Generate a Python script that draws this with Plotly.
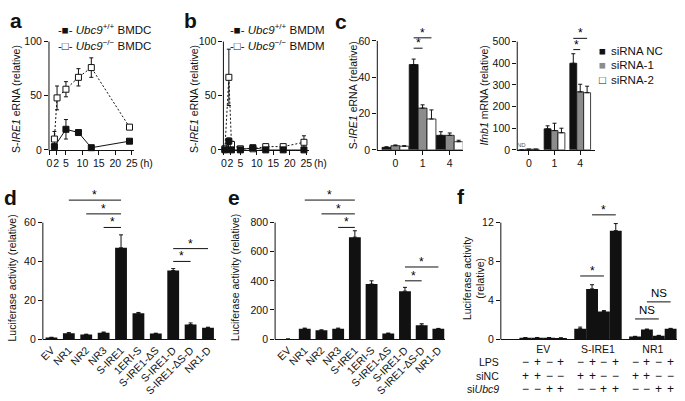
import plotly.graph_objects as go

W, H = 685, 401
FONT = "Liberation Sans, Arial, Helvetica, sans-serif"
INK = "#111111"
GRAY = "#8c8c8c"

# ===================== DATA =====================
# (a) S-IRE1 eRNA, BMDC time course (h)
a_time_wt = [1.5, 5, 8.8, 12.7, 24.3]
a_val_wt = [3, 19, 16, 2, 8]
a_err_wt = [2, 9, 1, 1, 1]
a_time_ko = [1.5, 2.3, 5, 8.8, 12.7, 24.3]
a_val_ko = [10, 48, 56, 67, 76, 21]
a_err_ko = [7, 11, 7, 8, 9, 2]

# (b) S-IRE1 eRNA, BMDM time course (h)
b_time = [0.3, 1.5, 2.3, 5, 8.8, 12.7, 18, 24.3]
b_val_wt = [0, 8, 0, 0, 2, 0, 0, 0]
b_err_wt = [0.5, 3, 1, 1, 1, 0.5, 0.5, 1]
b_val_ko = [1, 67, 5, 1, 1, 3, 3, 7]
b_err_ko = [1, 26, 3, 1, 1, 1, 1, 6]

time_ticks = [0, 2, 5, 10, 15, 20, 25]
ab_yticks = [0, 50, 100]

# (c) siRNA knock-down
c_groups = ["0", "1", "4"]
c_names = ["siRNA NC", "siRNA-1", "siRNA-2"]
c_eRNA_nc = [1.4, 47, 8]
c_eRNA_si1 = [2.3, 23, 8]
c_eRNA_si2 = [2.0, 17, 4.5]
c_eRNA_nc_err = [0.3, 3, 2]
c_eRNA_si1_err = [0.4, 1.8, 1.3]
c_eRNA_si2_err = [0.3, 5, 0.8]
c_ifnb_nc = [0, 97, 400]
c_ifnb_si1 = [3, 89, 268]
c_ifnb_si2 = [3, 79, 264]
c_ifnb_nc_err = [0, 14, 44]
c_ifnb_si1_err = [0, 34, 35]
c_ifnb_si2_err = [0, 21, 30]
c_eRNA_yticks = [0, 20, 40, 60]
c_ifnb_yticks = [0, 100, 200, 300, 400, 500]
# (group, bar_i, bar_j, level, label)
c_eRNA_sig = [(1, 0, 1, 56, "*"), (1, 0, 2, 61.7, "*")]
c_ifnb_sig = [(2, 0, 1, 463, "*"), (2, 0, 2, 515, "*")]

# (d), (e) luciferase constructs
de_labels = ["EV", "NR1", "NR2", "NR3", "S-IRE1", "1ERI-S", "S-IRE1-ΔS",
             "S-IRE1-D", "S-IRE1-ΔS-D", "NR1-D"]
d_vals = [0.8, 3, 2.3, 3.3, 47, 13.3, 2.8, 35.3, 7.5, 5.8]
d_errs = [0.1, 0.3, 0.2, 0.3, 6.7, 0.4, 0.2, 1.0, 0.8, 0.3]
e_vals = [0, 71, 60, 70, 700, 378, 38, 329, 95, 70]
e_errs = [0, 4, 3, 5, 44, 22, 3, 26, 10, 3]
d_yticks = [0, 20, 40, 60]
e_yticks = [0, 200, 400, 600, 800]
# (bar_i, bar_j, level, label)
d_sig = [(1, 4, 71.6, "*"), (2, 4, 64.5, "*"), (3, 4, 57.5, "*"),
         (7, 8, 40, "*"), (7, 9, 46.6, "*")]
e_sig = [(1, 4, 955, "*"), (2, 4, 860, "*"), (3, 4, 767, "*"),
         (7, 8, 400, "*"), (7, 9, 495, "*")]

# (f) luciferase with LPS / siRNA
f_groups = ["EV", "S-IRE1", "NR1"]
f_ev = [0.12, 0.14, 0.13, 0.1]
f_sire1 = [1.07, 5.17, 2.83, 11.17]
f_nr1 = [0.25, 0.98, 0.35, 1.05]
f_ev_err = [0.02, 0.02, 0.02, 0.02]
f_sire1_err = [0.16, 0.43, 0.1, 0.73]
f_nr1_err = [0.03, 0.05, 0.03, 0.05]
f_lps = ["−", "+", "−", "+"]
f_sinc = ["+", "+", "−", "−"]
f_siubc9 = ["−", "−", "+", "+"]
f_yticks = [0, 4, 8, 12]
# (group, bar_i, bar_j, level, label)
f_sig = [(1, 0, 2, 6.5, "*"), (1, 1, 3, 12.8, "*"),
         (2, 0, 2, 2.07, "NS"), (2, 1, 3, 3.83, "NS")]

# ===================== LAYOUT GEOMETRY (pixels) =====================
def px(p):
    return p / W


def py(p):
    return 1 - p / H


def lin_range(p_lo, p_hi, pa, va, pb, vb):
    s = (pb - pa) / (vb - va)
    return [va + (p_lo - pa) / s, va + (p_hi - pa) / s]


GEO = {
    "a": dict(n="", L=44.5, R=131, xc=(45, 0, 128.3, 25), y0=148.3, yt=(36.7, 100), yhi=100),
    "b": dict(n="2", L=221, R=307.5, xc=(221.5, 0, 304.8, 25), y0=148.3, yt=(36.7, 100), yhi=100),
    "c1": dict(n="3", L=376.7, R=463, xc=(395, 0, 450, 2), y0=148.3, yt=(36, 60), yhi=66),
    "c2": dict(n="4", L=518.3, R=596.7, xc=(530, 0, 582, 2), y0=148.3, yt=(36.7, 500), yhi=545),
    "d": dict(n="5", L=38.3, R=213, xc=(47, 0, 205.4, 9), y0=343.3, yt=(223.3, 60), yhi=78),
    "e": dict(n="6", L=273.3, R=445, xc=(286.4, 0, 438.5, 9), y0=343.3, yt=(223.3, 800), yhi=1020),
    "f": dict(n="7", L=501.7, R=680, xc=(526.5, 0, 538.5, 1), y0=343.3, yt=(223.3, 12), yhi=14.3),
}

tickfont = dict(family=FONT, size=10.5, color=INK)
layout = dict(
    width=W, height=H, autosize=False,
    margin=dict(l=0, r=0, t=0, b=0),
    paper_bgcolor="white", plot_bgcolor="white",
    showlegend=False, barmode="overlay",
    font=dict(family=FONT, size=10.5, color=INK),
)
shapes = []
annotations = []

for key, g in GEO.items():
    n = g["n"]
    s = (g["y0"] - g["yt"][0]) / g["yt"][1]
    top_px = g["y0"] - g["yhi"] * s
    xr = lin_range(g["L"], g["R"], *g["xc"])
    layout["xaxis" + n] = dict(
        domain=[px(g["L"]), px(g["R"])], range=xr, anchor="y" + n,
        showgrid=False, zeroline=False, showline=True, linecolor=INK, linewidth=1,
        ticks="outside", ticklen=4, tickwidth=1, tickcolor=INK, tickfont=tickfont,
        tickangle=0,
    )
    layout["yaxis" + n] = dict(
        domain=[py(g["y0"]), py(top_px)], range=[0, g["yhi"]], anchor="x" + n,
        showgrid=False, zeroline=False, showline=False,
        ticks="outside", ticklen=4, tickwidth=1, tickcolor=INK, tickfont=tickfont,
    )
    shapes.append(dict(type="line", xref="paper", yref="paper",
                       x0=px(g["L"]), x1=px(g["L"]), y0=py(g["y0"] + 0.5), y1=py(g["yt"][0]),
                       line=dict(color=INK, width=1)))

for n in ["", "2"]:
    layout["xaxis" + n].update(tickmode="array", tickvals=time_ticks, ticktext=[str(t) for t in time_ticks])
    layout["yaxis" + n].update(tickmode="array", tickvals=ab_yticks)
layout["xaxis3"].update(tickmode="array", tickvals=[0, 1, 2], ticktext=c_groups)
layout["yaxis3"].update(tickmode="array", tickvals=c_eRNA_yticks)
layout["xaxis4"].update(tickmode="array", tickvals=[0, 1, 2], ticktext=c_groups)
layout["yaxis4"].update(tickmode="array", tickvals=c_ifnb_yticks)
for n, yt in [("5", d_yticks), ("6", e_yticks)]:
    layout["xaxis" + n].update(tickmode="array", tickvals=list(range(len(de_labels))),
                               ticktext=de_labels, tickangle=-45, ticks="")
    layout["yaxis" + n].update(tickmode="array", tickvals=yt)

F_STRIDE = 4.625
f_centers = [gi * F_STRIDE + 1.5 for gi in range(len(f_groups))]
layout["xaxis7"].update(tickmode="array", tickvals=f_centers, ticktext=f_groups, ticks="")
layout["yaxis7"].update(tickmode="array", tickvals=f_yticks)

fig = go.Figure()


def err(arr, one_sided=True, width=2):
    d = dict(type="data", array=arr, color=INK, thickness=1, width=width, visible=True)
    if one_sided:
        d.update(symmetric=False, arrayminus=[0] * len(arr))
    return d


for n, t_wt, v_wt, e_wt, t_ko, v_ko, e_ko in [
    ("", a_time_wt, a_val_wt, a_err_wt, a_time_ko, a_val_ko, a_err_ko),
    ("2", b_time, b_val_wt, b_err_wt, b_time, b_val_ko, b_err_ko),
]:
    fig.add_trace(go.Scatter(
        x=t_ko, y=v_ko, error_y=err(e_ko, False, 2), mode="lines+markers",
        line=dict(color=INK, width=1, dash="2px,2px"),
        marker=dict(symbol="square", size=6, color="white", line=dict(color=INK, width=1)),
        xaxis="x" + n, yaxis="y" + n, cliponaxis=False, hoverinfo="skip"))
    fig.add_trace(go.Scatter(
        x=t_wt, y=v_wt, error_y=err(e_wt, False, 2), mode="lines+markers",
        line=dict(color=INK, width=1),
        marker=dict(symbol="square", size=6, color=INK, line=dict(color=INK, width=1)),
        xaxis="x" + n, yaxis="y" + n, cliponaxis=False, hoverinfo="skip"))

C_COLORS = [INK, GRAY, "white"]
c_bw = {"3": 9 / 27.5, "4": 7 / 26}
for n, series, errs in [
    ("3", [c_eRNA_nc, c_eRNA_si1, c_eRNA_si2], [c_eRNA_nc_err, c_eRNA_si1_err, c_eRNA_si2_err]),
    ("4", [c_ifnb_nc, c_ifnb_si1, c_ifnb_si2], [c_ifnb_nc_err, c_ifnb_si1_err, c_ifnb_si2_err]),
]:
    bw = c_bw[n]
    for i, (vals, ee) in enumerate(zip(series, errs)):
        fig.add_trace(go.Bar(
            x=[k + (i - 1) * bw for k in range(len(c_groups))], y=vals, width=bw,
            marker=dict(color=C_COLORS[i], line=dict(color=INK, width=0.8)),
            error_y=err(ee), xaxis="x" + n, yaxis="y" + n, cliponaxis=False,
            name=c_names[i], hoverinfo="skip"))

for n, vals, ee, bw in [("5", d_vals, d_errs, 0.68), ("6", e_vals, e_errs, 0.71)]:
    fig.add_trace(go.Bar(
        x=list(range(len(de_labels))), y=vals, width=bw,
        marker=dict(color=INK, line=dict(width=0)),
        error_y=err(ee), xaxis="x" + n, yaxis="y" + n, cliponaxis=False, hoverinfo="skip"))

for gi, (vals, ee) in enumerate([(f_ev, f_ev_err), (f_sire1, f_sire1_err), (f_nr1, f_nr1_err)]):
    fig.add_trace(go.Bar(
        x=[gi * F_STRIDE + i for i in range(len(vals))], y=vals, width=1.0,
        marker=dict(color=INK, line=dict(width=0)),
        error_y=err(ee), xaxis="x7", yaxis="y7", cliponaxis=False, hoverinfo="skip"))


def bracket(n, x0, x1, y, text, size=12, yshift=2):
    shapes.append(dict(type="line", xref="x" + n, yref="y" + n, x0=x0, x1=x1, y0=y, y1=y,
                       line=dict(color=INK, width=1)))
    annotations.append(dict(xref="x" + n, yref="y" + n, x=(x0 + x1) / 2, y=y, text=text,
                            showarrow=False, yanchor="bottom", yshift=yshift,
                            font=dict(family=FONT, size=size, color="black")))


for n, sig in [("3", c_eRNA_sig), ("4", c_ifnb_sig)]:
    bw = c_bw[n]
    for gk, bi, bj, lvl, t in sig:
        bracket(n, gk + (bi - 1) * bw, gk + (bj - 1) * bw, lvl, t, yshift=-4)
for n, sig in [("5", d_sig), ("6", e_sig)]:
    for bi, bj, lvl, t in sig:
        bracket(n, bi, bj, lvl, t, yshift=-4)
for gk, bi, bj, lvl, t in f_sig:
    if t == "NS":
        bracket("7", gk * F_STRIDE + bi, gk * F_STRIDE + bj, lvl, t, size=11.5, yshift=1)
    else:
        bracket("7", gk * F_STRIDE + bi, gk * F_STRIDE + bj, lvl, t, yshift=-4)

annotations.append(dict(xref="x4", yref="y4", x=0 - c_bw["4"], y=0, text="ND", showarrow=False,
                        yanchor="bottom", yshift=0, font=dict(family=FONT, size=6, color="#555")))


def txt(x, y, text, size=10.5, angle=0, xanchor="center", yanchor="middle", bold=False):
    annotations.append(dict(xref="paper", yref="paper", x=px(x), y=py(y),
                            text=("<b>%s</b>" % text) if bold else text, textangle=angle,
                            showarrow=False, xanchor=xanchor, yanchor=yanchor,
                            font=dict(family=FONT, size=size, color=INK)))


ERNA = "S-<i>IRE1</i> eRNA (relative)"
LUC = "Luciferase activity (relative)"
txt(11, 96, ERNA, angle=-90)
txt(191, 96, ERNA, angle=-90)
txt(352, 92, ERNA, angle=-90)
txt(485, 92, "<i>Ifnb1</i> mRNA (relative)", angle=-90)
txt(7, 280, LUC, angle=-90)
txt(232, 280, LUC, angle=-90)
txt(474, 280, "Luciferase activity<br>(relative)", angle=-90)

for letter, x, y in [("a", 11, 15), ("b", 188, 15), ("c", 340, 16),
                     ("d", 6, 197), ("e", 232, 197), ("f", 461, 196)]:
    txt(x, y, letter, size=21, bold=True)

txt(143, 162, "(h)")
txt(319, 162, "(h)")

LEG = 11.5
txt(52, 24, "-■- <i>Ubc9</i><sup>+/+</sup> BMDC", size=LEG, xanchor="left")
txt(52, 40, "-□- <i>Ubc9</i><sup>−/−</sup> BMDC", size=LEG, xanchor="left")
txt(226, 24, "-■- <i>Ubc9</i><sup>+/+</sup> BMDM", size=LEG, xanchor="left")
txt(226, 40, "-□- <i>Ubc9</i><sup>−/−</sup> BMDM", size=LEG, xanchor="left")
for i, (sym, col) in enumerate([("■", INK), ("■", GRAY), ("□", INK)]):
    y = 46 + 15 * i
    annotations.append(dict(xref="paper", yref="paper", x=px(599), y=py(y), text=sym,
                            showarrow=False, xanchor="left", yanchor="middle",
                            font=dict(family=FONT, size=LEG, color=col)))
    txt(611, y, c_names[i], size=LEG, xanchor="left")

rows = [("LPS", f_lps, 367), ("siNC", f_sinc, 381), ("si<i>Ubc9</i>", f_siubc9, 395)]
for label, signs, y in rows:
    txt(502, y, label, size=10.5, xanchor="right")
    for gi in range(len(f_groups)):
        for i, sgn in enumerate(signs):
            annotations.append(dict(xref="x7", yref="paper", x=gi * F_STRIDE + i, y=py(y),
                                    text=sgn, showarrow=False, xanchor="center", yanchor="middle",
                                    font=dict(family=FONT, size=12, color=INK)))

layout["shapes"] = shapes
layout["annotations"] = annotations
fig.update_layout(**layout)
fig.write_html(
    "out.html",
    config={"displayModeBar": False, "staticPlot": True},
    post_script="document.body.style.margin='0';document.body.style.padding='0';",
)
